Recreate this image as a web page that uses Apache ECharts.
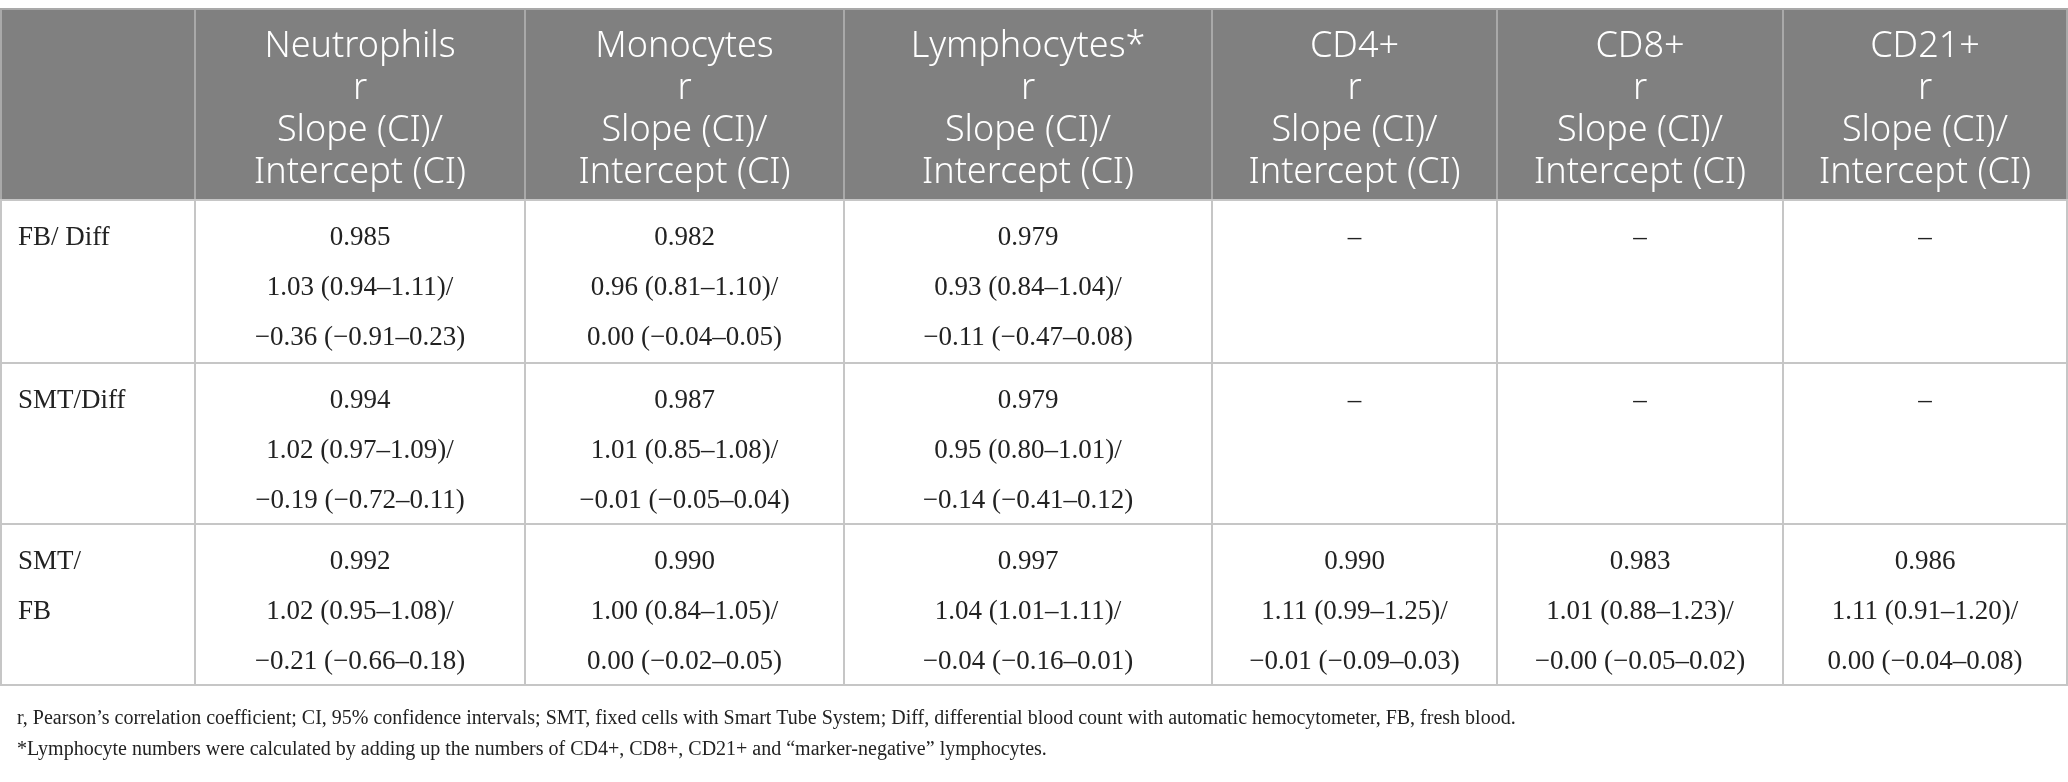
<!DOCTYPE html>
<html>
<head>
<meta charset="utf-8">
<script src="https://cdn.jsdelivr.net/npm/echarts@6.0.0/dist/echarts.min.js"></script>
<style>
html,body{margin:0;padding:0;background:#fff;}
#table-chart{width:2068px;height:782px;}
</style>
</head>
<body>
<div id="table-chart"></div>
<script>
var cellTypes = ['Neutrophils', 'Monocytes', 'Lymphocytes*', 'CD4+', 'CD8+', 'CD21+'];
var headerLines = ['r', 'Slope (CI)/', 'Intercept (CI)'];
var comparisons = ['FB/ Diff', 'SMT/Diff', 'SMT/\nFB'];

// r per comparison row, null = not measured
var rValues = [
    [0.985, 0.982, 0.979, null, null, null],
    [0.994, 0.987, 0.979, null, null, null],
    [0.992, 0.990, 0.997, 0.990, 0.983, 0.986]
];
// [slope, lower CI, upper CI]
var slopes = [
    [[1.03, 0.94, 1.11], [0.96, 0.81, 1.10], [0.93, 0.84, 1.04], null, null, null],
    [[1.02, 0.97, 1.09], [1.01, 0.85, 1.08], [0.95, 0.80, 1.01], null, null, null],
    [[1.02, 0.95, 1.08], [1.00, 0.84, 1.05], [1.04, 1.01, 1.11], [1.11, 0.99, 1.25], [1.01, 0.88, 1.23], [1.11, 0.91, 1.20]]
];
// [intercept, lower CI, upper CI]
var intercepts = [
    [[-0.36, -0.91, 0.23], [0.00, -0.04, 0.05], [-0.11, -0.47, 0.08], null, null, null],
    [[-0.19, -0.72, 0.11], [-0.01, -0.05, 0.04], [-0.14, -0.41, 0.12], null, null, null],
    [[-0.21, -0.66, 0.18], [0.00, -0.02, 0.05], [-0.04, -0.16, 0.01], [-0.01, -0.09, 0.03], [-0.00, -0.05, 0.02], [0.00, -0.04, 0.08]]
];
var footnotes = [
    'r, Pearson\u2019s correlation coefficient; CI, 95% confidence intervals; SMT, fixed cells with Smart Tube System; Diff, differential blood count with automatic hemocytometer, FB, fresh blood.',
    '*Lymphocyte numbers were calculated by adding up the numbers of CD4+, CD8+, CD21+ and \u201cmarker-negative\u201d lymphocytes.'
];

// table layout (axis units)
var colWidths = [194, 330, 319, 368, 285, 286, 284];
var rowHeights = [191, 163, 161, 161];

function starts(arr) {
    var out = [], s = 0;
    for (var i = 0; i < arr.length; i++) { out.push(s); s += arr[i]; }
    return out;
}
var colStart = starts(colWidths);
var rowStart = starts(rowHeights);
var colTotal = colStart[colStart.length - 1] + colWidths[colWidths.length - 1];
var rowTotal = rowStart[rowStart.length - 1] + rowHeights[rowHeights.length - 1];

function num(v) {
    var s = Math.abs(v).toFixed(2);
    return (v < 0 || Object.is(v, -0)) ? '\u2212' + s : s;
}
function ci(t) {
    return num(t[0]) + ' (' + num(t[1]) + '\u2013' + num(t[2]) + ')';
}

// one item per cell: [col, row], texts looked up by index
var cells = [];
var cellText = [];
cells.push([0, 0]); cellText.push('');
cellTypes.forEach(function (name, i) {
    cells.push([i + 1, 0]);
    cellText.push(name + '\n' + headerLines.join('\n'));
});
comparisons.forEach(function (name, r) {
    cells.push([0, r + 1]); cellText.push(name);
    cellTypes.forEach(function (t, c) {
        cells.push([c + 1, r + 1]);
        if (rValues[r][c] === null) {
            cellText.push('\u2013');
        } else {
            cellText.push(rValues[r][c].toFixed(3) + '\n' + ci(slopes[r][c]) + '/\n' + ci(intercepts[r][c]));
        }
    });
});

var chart = echarts.init(document.getElementById('table-chart'));

var option = {
    animation: false,
    backgroundColor: '#fff',
    grid: { left: 1, right: 1, top: 9, height: 676 },
    xAxis: { type: 'value', min: 0, max: colTotal, show: false },
    yAxis: { type: 'value', min: 0, max: rowTotal, inverse: true, show: false },
    graphic: footnotes.map(function (t, i) {
        return {
            type: 'text',
            left: 17,
            top: 709 + i * 31,
            style: { text: t, font: '20px "Liberation Serif"', fill: '#222' }
        };
    }),
    series: [{
        type: 'custom',
        clip: false,
        data: cells,
        renderItem: function (params, api) {
            var c = api.value(0), r = api.value(1);
            var p0 = api.coord([colStart[c], rowStart[r]]);
            var p1 = api.coord([colStart[c] + colWidths[c], rowStart[r] + rowHeights[r]]);
            var w = p1[0] - p0[0], h = p1[1] - p0[1];
            var txt = cellText[params.dataIndex];
            var isHead = r === 0;
            var textEl;
            if (isHead) {
                textEl = {
                    type: 'text',
                    style: {
                        text: txt, x: p0[0] + w / 2, y: p0[1] + h / 2 + 5,
                        align: 'center', verticalAlign: 'middle',
                        font: '300 36px "Noto Sans"', lineHeight: 42, fill: '#fff'
                    }
                };
            } else if (c === 0) {
                textEl = {
                    type: 'text',
                    style: {
                        text: txt, x: p0[0] + 17, y: p0[1] + 13,
                        align: 'left', verticalAlign: 'top',
                        font: '27px "Liberation Serif"', lineHeight: 50, fill: '#222'
                    }
                };
            } else {
                textEl = {
                    type: 'text',
                    style: {
                        text: txt, x: p0[0] + w / 2, y: p0[1] + 13,
                        align: 'center', verticalAlign: 'top',
                        font: '27px "Liberation Serif"', lineHeight: 50, fill: '#222'
                    }
                };
            }
            return {
                type: 'group',
                children: [{
                    type: 'rect',
                    shape: { x: p0[0], y: p0[1], width: w, height: h },
                    style: {
                        fill: isHead ? '#808080' : '#fff',
                        stroke: isHead ? '#a9a9a9' : '#c6c6c6',
                        lineWidth: 2
                    }
                }, textEl]
            };
        }
    }]
};

chart.setOption(option);

window.addEventListener('resize', function () {
    chart.resize();
});
</script>
</body>
</html>
